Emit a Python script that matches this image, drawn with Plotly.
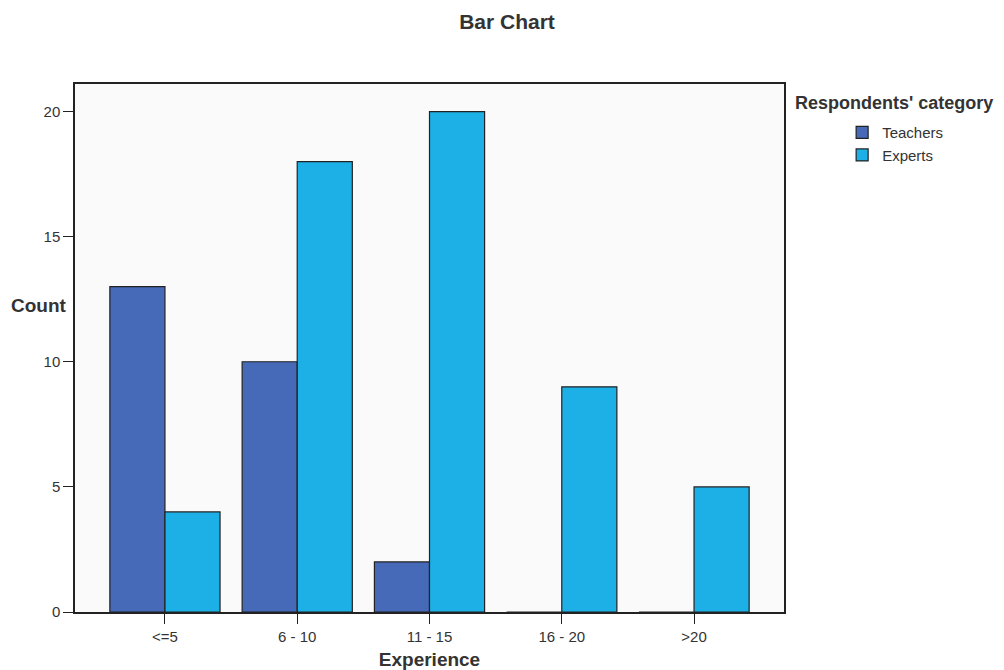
import plotly.graph_objects as go

categories = ["<=5", "6 - 10", "11 - 15", "16 - 20", ">20"]
teachers = [13, 10, 2, 0, 0]
experts = [4, 18, 20, 9, 5]
series_names = ["Teachers", "Experts"]
y_ticks = [0, 5, 10, 15, 20]

FONT = "Liberation Sans, Arial, sans-serif"

fig = go.Figure()
fig.add_trace(go.Bar(x=categories, y=teachers, name=series_names[0],
                     marker=dict(color="#4669B8", line=dict(color="#222222", width=1.2))))
fig.add_trace(go.Bar(x=categories, y=experts, name=series_names[1],
                     marker=dict(color="#1DB0E6", line=dict(color="#222222", width=1.2))))

fig.update_layout(
    width=996, height=662,
    paper_bgcolor="white", plot_bgcolor="#FAFAFA",
    margin=dict(l=67, r=220, t=76, b=58),
    barmode="group", bargap=0.167, bargroupgap=0,
    font=dict(family=FONT, color="#333333", size=15),
    title=dict(text="<b>Bar Chart</b>", x=0.501, xanchor="center", y=0.979, yanchor="middle",
               font=dict(size=21, color="#333333")),
    showlegend=True,
    legend=dict(x=1.082, xanchor="left", y=0.939, yanchor="top",
                font=dict(size=15, color="#333333"), tracegroupgap=0,
                bgcolor="rgba(0,0,0,0)"),
    xaxis=dict(range=[-0.68, 4.68], showline=True, linecolor="#222222", linewidth=1.5,
               mirror=True, ticks="outside", ticklen=10, tickcolor="#222222",
               showgrid=False, zeroline=False, automargin=False,
               title=dict(text="<b>Experience</b>", font=dict(size=19, color="#333333"), standoff=10),
               tickfont=dict(size=15, color="#333333")),
    yaxis=dict(range=[0, 21.1], tickvals=y_ticks, showline=True, linecolor="#222222", linewidth=1.5,
               mirror=True, ticks="outside", ticklen=10, tickcolor="#222222",
               showgrid=False, zeroline=False, automargin=False,
               tickfont=dict(size=15, color="#333333")),
    annotations=[
        dict(text="<b>Count</b>", xref="paper", yref="paper", x=-0.008, y=0.58,
             xanchor="right", yanchor="middle", showarrow=False,
             font=dict(size=19, color="#333333")),
        dict(text="<b>Respondents' category</b>", xref="paper", yref="paper", x=1.0127, y=0.964,
             xanchor="left", yanchor="middle", showarrow=False,
             font=dict(size=18, color="#333333")),
    ],
)

fig.write_html("out.html")
